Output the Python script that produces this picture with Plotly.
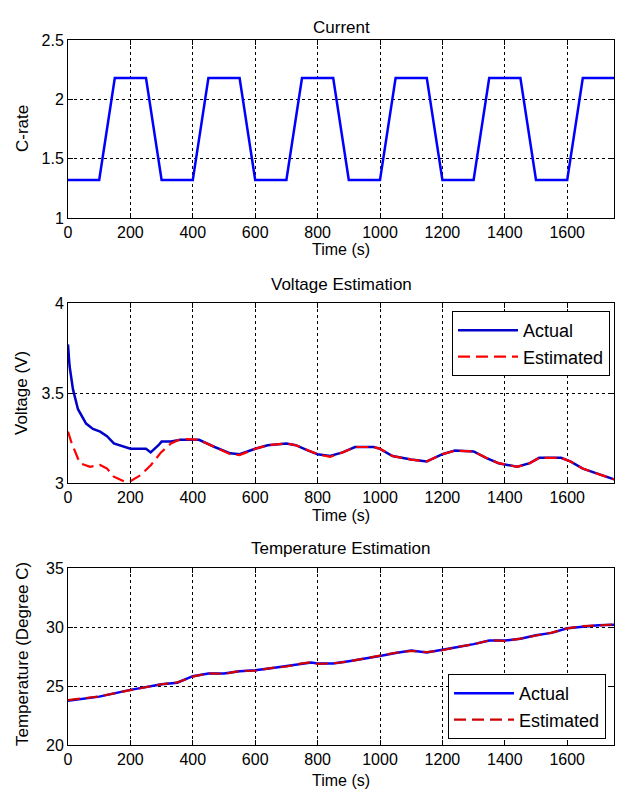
import plotly.graph_objects as go

# ---------------- data ----------------
time_current = [0, 100, 150, 250, 300, 400, 450, 550, 600, 700, 750, 850, 900,
                1000, 1050, 1150, 1200, 1300, 1350, 1450, 1500, 1600, 1650, 1750]
c_rate = [1.32, 1.32, 2.18, 2.18, 1.32, 1.32, 2.18, 2.18, 1.32, 1.32, 2.18, 2.18, 1.32,
          1.32, 2.18, 2.18, 1.32, 1.32, 2.18, 2.18, 1.32, 1.32, 2.18, 2.18]

time_v_actual = [0, 5, 16, 32, 58, 80, 103, 125, 147, 179, 200, 250, 265, 290, 300, 330,
                 360, 420, 470, 520, 550, 600, 640, 700, 730, 770, 800, 840, 880, 920,
                 980, 1000, 1040, 1100, 1150, 1200, 1240, 1300, 1340, 1380, 1440, 1480,
                 1510, 1580, 1610, 1650, 1700, 1750]
v_actual = [3.77, 3.65, 3.52, 3.41, 3.33, 3.30, 3.285, 3.26, 3.22, 3.20, 3.19, 3.19, 3.17,
            3.21, 3.23, 3.23, 3.24, 3.24, 3.20, 3.165, 3.16, 3.19, 3.21, 3.22, 3.21, 3.18,
            3.16, 3.15, 3.17, 3.20, 3.20, 3.19, 3.15, 3.13, 3.12, 3.16, 3.18, 3.175,
            3.14, 3.11, 3.09, 3.11, 3.14, 3.14, 3.12, 3.08, 3.05, 3.02]

time_v_est = [0, 12, 38, 71, 103, 125, 147, 179, 200, 234, 266, 298, 330, 362, 420, 470,
              520, 550, 600, 640, 700, 730, 770, 800, 840, 880, 920, 980, 1000, 1040, 1100,
              1150, 1200, 1240, 1300, 1340, 1380, 1440, 1480, 1510, 1580, 1610, 1650,
              1700, 1750]
v_est = [3.285, 3.22, 3.11, 3.09, 3.10, 3.08, 3.035, 3.01, 3.01, 3.045, 3.10, 3.17, 3.22,
         3.245, 3.24, 3.20, 3.16, 3.155, 3.19, 3.21, 3.22, 3.21, 3.18, 3.16, 3.145, 3.17,
         3.20, 3.20, 3.19, 3.15, 3.13, 3.12, 3.16, 3.18, 3.175, 3.14, 3.11, 3.09, 3.11,
         3.14, 3.14, 3.12, 3.08, 3.05, 3.02]

time_temp = [0, 100, 200, 300, 350, 400, 450, 500, 550, 600, 650, 700, 750, 780, 800, 850,
             900, 950, 1000, 1050, 1100, 1150, 1200, 1250, 1300, 1350, 1400, 1450, 1500,
             1550, 1600, 1650, 1700, 1750]
temp_actual = [23.75, 24.1, 24.67, 25.14, 25.28, 25.83, 26.05, 26.05, 26.25, 26.33, 26.5,
               26.67, 26.9, 27.0, 26.9, 26.9, 27.1, 27.3, 27.55, 27.8, 28.0, 27.85, 28.05,
               28.3, 28.55, 28.85, 28.85, 29.0, 29.3, 29.5, 29.9, 30.05, 30.15, 30.2]
temp_est = [23.8, 24.12, 24.65, 25.15, 25.3, 25.8, 26.07, 26.03, 26.27, 26.3, 26.52,
            26.65, 26.92, 27.02, 26.88, 26.92, 27.08, 27.32, 27.53, 27.82, 27.98, 27.87,
            28.03, 28.32, 28.53, 28.87, 28.83, 29.02, 29.28, 29.52, 29.88, 30.07, 30.13, 30.22]

x_ticks = [0, 200, 400, 600, 800, 1000, 1200, 1400, 1600]

# ---------------- figure ----------------
OFF = 8                      # page body margin in the browser
W, H = 624 - OFF, 796 - OFF  # figure size so the page fits the window
FONT = "Liberation Sans, Arial, Helvetica, sans-serif"

def px_x(x):
    return (x - OFF) / W

def px_y(y):
    return 1 - (y - OFF) / H

x0, x1 = px_x(68), px_x(614)
panels = [(40, 218), (303, 483), (568, 745)]   # top/bottom window rows of each axes box

fig = go.Figure()
fig.add_trace(go.Scatter(x=time_current, y=c_rate, mode="lines",
                         line=dict(color="#0000ff", width=2.5), showlegend=False,
                         xaxis="x", yaxis="y"))
fig.add_trace(go.Scatter(x=time_v_actual, y=v_actual, mode="lines", name="Actual",
                         line=dict(color="#0000c8", width=2.5), legend="legend",
                         xaxis="x2", yaxis="y2"))
fig.add_trace(go.Scatter(x=time_v_est, y=v_est, mode="lines", name="Estimated",
                         line=dict(color="#ff0000", width=2.2, dash="12px,6px"),
                         legend="legend", xaxis="x2", yaxis="y2"))
fig.add_trace(go.Scatter(x=time_temp, y=temp_actual, mode="lines", name="Actual",
                         line=dict(color="#0000ff", width=2.5), legend="legend2",
                         xaxis="x3", yaxis="y3"))
fig.add_trace(go.Scatter(x=time_temp, y=temp_est, mode="lines", name="Estimated",
                         line=dict(color="#d00000", width=2.2, dash="12px,6px"),
                         legend="legend2", xaxis="x3", yaxis="y3"))

axis_common = dict(showline=True, linecolor="black", linewidth=1, mirror="ticks",
                   ticks="inside", ticklen=5, tickcolor="black", automargin=False,
                   showgrid=True, gridcolor="black", gridwidth=1, griddash="dot",
                   zeroline=False, tickfont=dict(family=FONT, size=16, color="black"))

yranges = [[1, 2.5], [3, 4], [20, 35]]
ytickvals = [[1, 1.5, 2, 2.5], [3, 3.5, 4], [20, 25, 30, 35]]
ytexts = [["1", "1.5", "2", "2.5"], ["3", "3.5", "4"], ["20", "25", "30", "35"]]

layout = dict(width=W, height=H,
              margin=dict(l=0, r=0, t=0, b=0, pad=0, autoexpand=False),
              paper_bgcolor="white", plot_bgcolor="white",
              font=dict(family=FONT, color="black"))
for i, (top, bot) in enumerate(panels):
    sx = "" if i == 0 else str(i + 1)
    layout["xaxis" + sx] = dict(axis_common, domain=[x0, x1], range=[0, 1750],
                                tickvals=x_ticks, anchor="y" + sx)
    layout["yaxis" + sx] = dict(axis_common, domain=[px_y(bot), px_y(top)],
                                range=yranges[i], tickvals=ytickvals[i],
                                ticktext=ytexts[i], anchor="x" + sx)

leg_common = dict(bordercolor="black", borderwidth=1, bgcolor="white",
                  font=dict(family=FONT, size=18, color="black"), itemwidth=60,
                  xanchor="right", yanchor="top", tracegroupgap=0)
layout["legend"] = dict(leg_common, x=px_x(610), y=px_y(311))
layout["legend2"] = dict(leg_common, x=px_x(606), y=px_y(674))
fig.update_layout(**layout)


def label(text, xpx, ypx, size, angle=0):
    fig.add_annotation(text=text, x=px_x(xpx), y=px_y(ypx), xref="paper", yref="paper",
                       xanchor="center", yanchor="middle", showarrow=False,
                       textangle=angle, font=dict(family=FONT, size=size, color="black"))

xcpx = (68 + 614) / 2
for text, ypx in [("Current", 28), ("Voltage Estimation", 284),
                  ("Temperature Estimation", 548)]:
    label(text, xcpx, ypx, 17)
for ypx in [250, 515, 780]:
    label("Time (s)", xcpx, ypx, 16)
for text, ypx in [("C-rate", 129), ("Voltage (V)", 393), ("Temperature (Degree C)", 654)]:
    label(text, 22, ypx, 17, angle=-90)

fig.write_html("out.html")
